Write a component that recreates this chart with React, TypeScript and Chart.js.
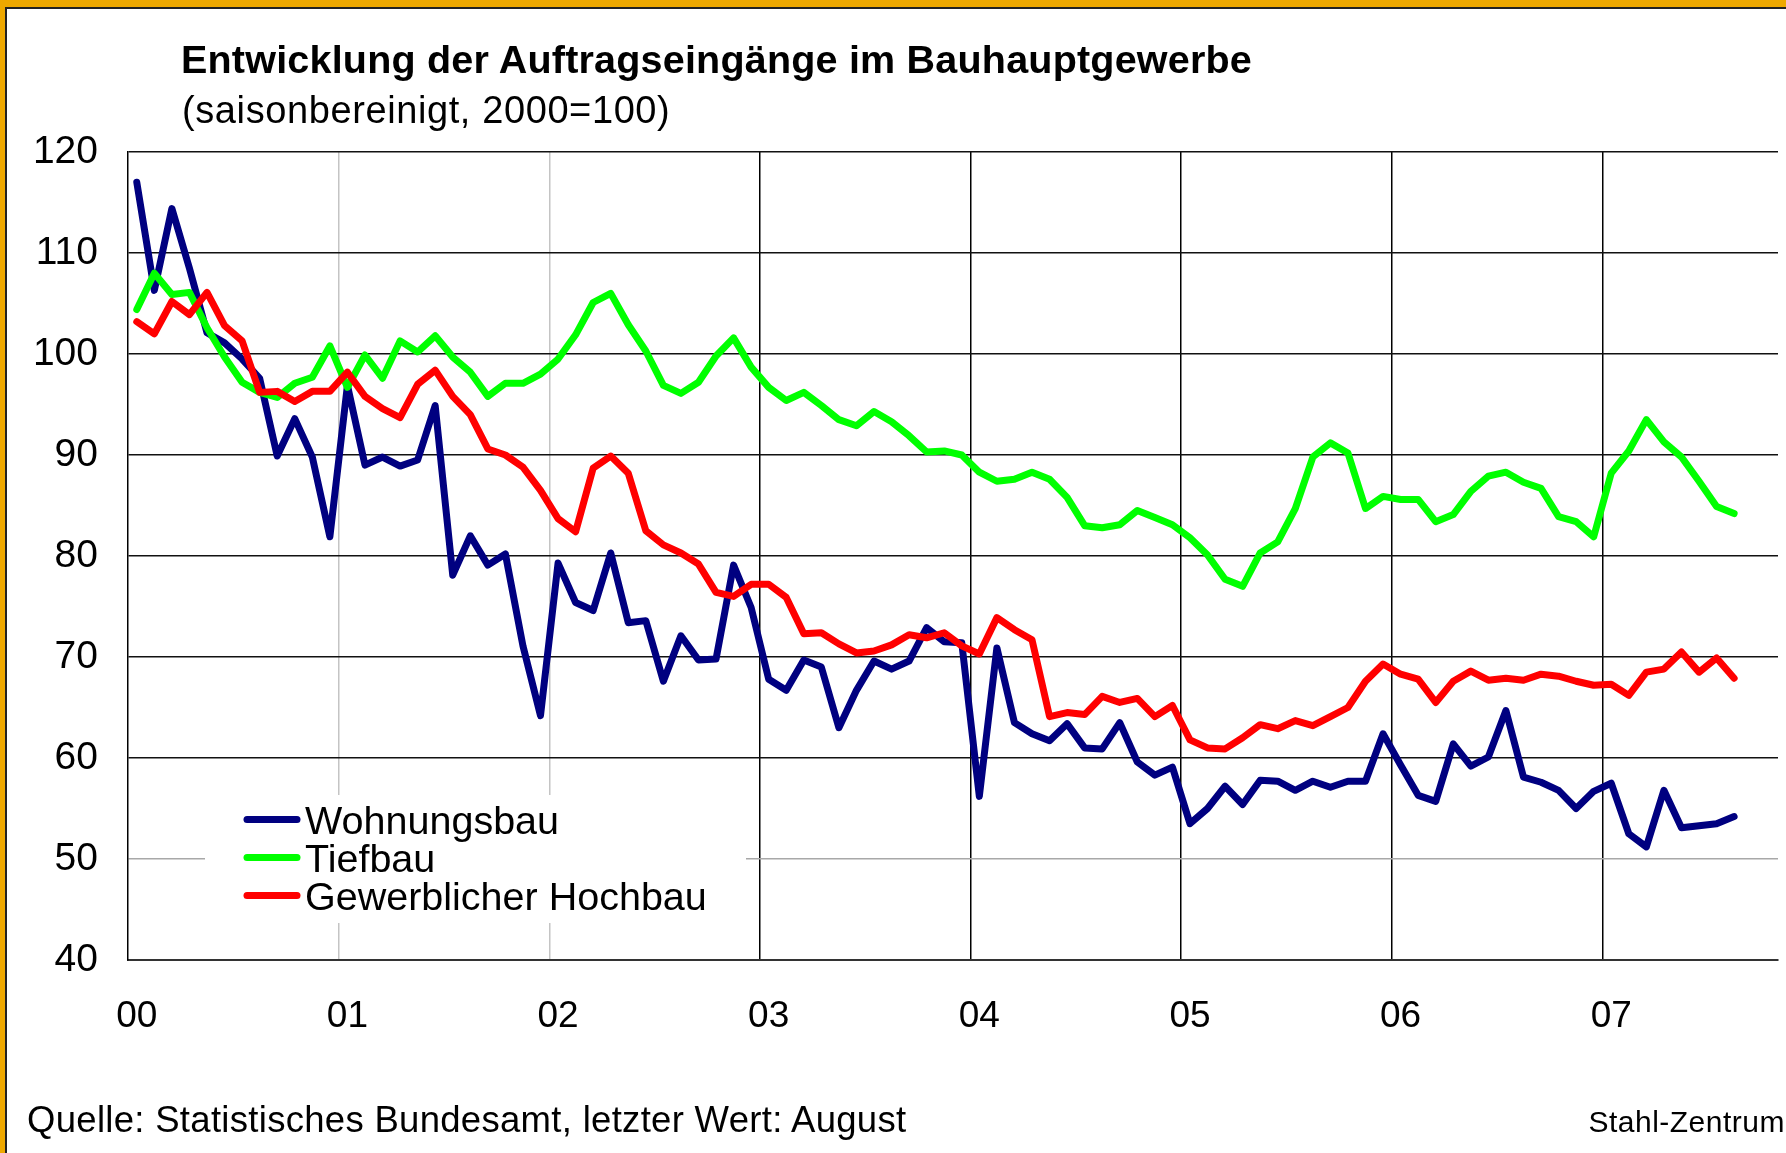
import React, { useEffect, useRef } from 'react';
import { Chart, registerables } from 'chart.js';

Chart.register(...registerables);

// ---------- data ----------
const yearLabels = ['00', '01', '02', '03', '04', '05', '06', '07'];
const monthNames = ['Jan', 'Feb', 'Mär', 'Apr', 'Mai', 'Jun', 'Jul', 'Aug', 'Sep', 'Okt', 'Nov', 'Dez'];
// Axis runs Jan 2000 .. Oct 2007 (94 months), data ends Aug 2007
const categories: string[] = [];
yearLabels.forEach((y) => monthNames.forEach((m) => categories.push(`${m} ${y}`)));
categories.length = 94;

const seriesNames = ['Wohnungsbau', 'Tiefbau', 'Gewerblicher Hochbau'];
const seriesColors = ['#000080', '#00FF00', '#FF0000'];

const wohnungsbau = [
  117.0, 106.3, 114.4, 108.5, 102.1, 101.1, 99.5, 97.6, 89.9, 93.6, 89.8, 81.9,
  96.9, 89.0, 89.8, 88.9, 89.5, 94.9, 78.1, 82.0, 79.1, 80.2, 71.1, 64.2,
  79.3, 75.4, 74.6, 80.3, 73.4, 73.6, 67.6, 72.1, 69.7, 69.8, 79.1, 74.9,
  67.8, 66.7, 69.7, 69.0, 63.0, 66.7, 69.6, 68.8, 69.6, 72.9, 71.5, 71.4,
  56.2, 70.9, 63.5, 62.4, 61.7, 63.4, 61.0, 60.9, 63.5, 59.6, 58.3, 59.1,
  53.5, 55.0, 57.2, 55.4, 57.8, 57.7, 56.8, 57.7, 57.1, 57.7, 57.7, 62.4,
  59.3, 56.3, 55.7, 61.4, 59.2, 60.1, 64.7, 58.1, 57.6, 56.8, 55.0, 56.7,
  57.5, 52.5, 51.2, 56.8, 53.1, 53.3, 53.5, 54.2,
];

const tiefbau = [
  104.4, 108.0, 105.9, 106.1, 102.6, 99.7, 97.2, 96.2, 95.7, 97.1, 97.7, 100.8,
  96.7, 99.9, 97.6, 101.3, 100.2, 101.8, 99.7, 98.2, 95.8, 97.1, 97.1, 98.0,
  99.5, 101.9, 105.1, 106.0, 102.9, 100.3, 96.9, 96.1, 97.2, 99.8, 101.6, 98.7,
  96.7, 95.4, 96.2, 94.9, 93.5, 92.9, 94.3, 93.3, 91.9, 90.3, 90.4, 90.0,
  88.3, 87.4, 87.6, 88.3, 87.6, 85.8, 83.0, 82.8, 83.1, 84.5, 83.8, 83.1,
  81.8, 80.1, 77.7, 77.0, 80.3, 81.4, 84.7, 89.8, 91.2, 90.2, 84.7, 85.9,
  85.6, 85.6, 83.4, 84.1, 86.4, 87.9, 88.3, 87.3, 86.7, 83.9, 83.4, 81.9,
  88.2, 90.4, 93.5, 91.3, 89.8, 87.4, 84.9, 84.2,
];

const hochbau = [
  103.2, 102.0, 105.2, 103.9, 106.1, 102.8, 101.3, 96.2, 96.3, 95.3, 96.3, 96.3,
  98.2, 95.8, 94.6, 93.7, 97.0, 98.4, 95.8, 94.0, 90.6, 90.0, 88.8, 86.5,
  83.7, 82.4, 88.7, 89.9, 88.2, 82.5, 81.1, 80.3, 79.2, 76.4, 76.0, 77.2,
  77.2, 75.9, 72.3, 72.4, 71.3, 70.4, 70.6, 71.2, 72.2, 71.9, 72.4, 71.1,
  70.3, 73.9, 72.7, 71.7, 64.1, 64.5, 64.3, 66.1, 65.5, 65.9, 64.1, 65.2,
  61.8, 61.0, 60.9, 62.0, 63.3, 62.9, 63.7, 63.2, 64.1, 65.0, 67.6, 69.3,
  68.3, 67.8, 65.5, 67.6, 68.6, 67.7, 67.9, 67.7, 68.3, 68.1, 67.6, 67.2,
  67.3, 66.2, 68.5, 68.8, 70.5, 68.5, 69.9, 67.9,
];

const yMin = 40;
const yMax = 120;
const yStep = 10;

const FONT = "'Liberation Sans', Arial, sans-serif";

// legend drawn inside the plot area on a white box
const legendPlugin = {
  id: 'innerLegend',
  beforeDatasetsDraw(chart: any) {
    const { ctx, chartArea } = chart;
    const left = chartArea.left;
    const bottom = chartArea.bottom;
    ctx.save();
    ctx.fillStyle = '#ffffff';
    ctx.fillRect(left + 77, bottom - 165, 541, 128);
    const baselines = [bottom - 126, bottom - 88, bottom - 50];
    chart.data.datasets.forEach((ds: any, i: number) => {
      const yb = baselines[i];
      ctx.strokeStyle = ds.borderColor;
      ctx.lineWidth = 7;
      ctx.lineCap = 'round';
      ctx.beginPath();
      ctx.moveTo(left + 119, yb - 14.5);
      ctx.lineTo(left + 169, yb - 14.5);
      ctx.stroke();
      ctx.fillStyle = '#000';
      ctx.font = `39.5px ${FONT}`;
      ctx.textAlign = 'left';
      ctx.textBaseline = 'alphabetic';
      ctx.fillText(ds.label, left + 177, yb);
    });
    ctx.restore();
  },
};

export default function App() {
  const canvasRef = useRef<HTMLCanvasElement>(null);

  useEffect(() => {
    const canvas = canvasRef.current;
    if (!canvas) return;
    const seriesData = [wohnungsbau, tiefbau, hochbau];
    const chart = new Chart(canvas, {
      type: 'line',
      data: {
        labels: categories,
        datasets: seriesData.map((d, i) => ({
          label: seriesNames[i],
          data: d,
          borderColor: seriesColors[i],
          backgroundColor: seriesColors[i],
          borderWidth: 7,
          pointRadius: 0,
          pointHoverRadius: 0,
          tension: 0,
          fill: false,
          borderJoinStyle: 'round' as const,
          borderCapStyle: 'round' as const,
          order: 2 - i,
        })),
      },
      options: {
        animation: false,
        responsive: false,
        devicePixelRatio: 1,
        events: [],
        layout: { padding: { left: 0, top: 152, right: 8, bottom: 0 } },
        plugins: {
          legend: { display: false },
          tooltip: { enabled: false },
          title: { display: false },
        },
        scales: {
          x: {
            type: 'category',
            offset: true,
            grid: {
              offset: true,
              drawTicks: false,
              lineWidth: 1.5,
              color: (ctx: any) => {
                const i = ctx.index;
                if (typeof i === 'number' && i > 0 && i < categories.length && i % 12 === 0) {
                  return i === 12 || i === 24 ? '#c4c4c4' : '#000000';
                }
                return 'rgba(0,0,0,0)';
              },
            },
            border: { display: true, color: '#333333', width: 2 },
            ticks: {
              autoSkip: false,
              maxRotation: 0,
              minRotation: 0,
              padding: 35,
              color: '#000',
              font: { family: FONT, size: 37 },
              callback: (_v: any, index: number) => (index % 12 === 0 ? yearLabels[index / 12] : ''),
            },
            afterFit: (scale: any) => {
              scale.height = 193;
              scale.paddingLeft = 0;
              scale.paddingRight = 0;
            },
          },
          y: {
            min: yMin,
            max: yMax,
            grid: {
              drawTicks: false,
              lineWidth: 1.5,
              color: (ctx: any) => (ctx.tick && ctx.tick.value === 50 ? '#a8a8a8' : '#111111'),
            },
            border: { display: true, color: '#000', width: 1.5 },
            ticks: {
              stepSize: yStep,
              padding: 30,
              color: '#000',
              font: { family: FONT, size: 39 },
            },
            afterFit: (scale: any) => {
              scale.width = 128;
            },
          },
        },
      } as any,
      plugins: [legendPlugin],
    });
    return () => chart.destroy();
  }, []);

  const orange = '#EEA800';
  return (
    <div
      style={{
        position: 'absolute',
        left: 0,
        top: 0,
        width: 1786,
        height: 1153,
        background: '#ffffff',
        overflow: 'hidden',
        fontFamily: FONT,
        color: '#000',
      }}
    >
      <canvas
        ref={canvasRef}
        width={1786}
        height={1153}
        style={{ position: 'absolute', left: 0, top: 0, width: 1786, height: 1153 }}
      />
      {/* frame */}
      <div style={{ position: 'absolute', left: 0, top: 0, width: 1786, height: 7, background: orange }} />
      <div style={{ position: 'absolute', left: 0, top: 0, width: 5, height: 1153, background: orange }} />
      <div style={{ position: 'absolute', left: 5, top: 7, width: 1781, height: 2, background: '#222' }} />
      <div style={{ position: 'absolute', left: 5, top: 7, width: 2, height: 1146, background: '#222' }} />
      {/* titles */}
      <div
        style={{
          position: 'absolute',
          left: 181,
          top: 39.9,
          fontSize: 39.5,
          lineHeight: '39.5px',
          fontWeight: 'bold',
          letterSpacing: '0.2px',
          whiteSpace: 'nowrap',
        }}
      >
        Entwicklung der Auftragseingänge im Bauhauptgewerbe
      </div>
      <div
        style={{
          position: 'absolute',
          left: 182,
          top: 91.1,
          fontSize: 38,
          lineHeight: '38px',
          letterSpacing: '0.6px',
          whiteSpace: 'nowrap',
        }}
      >
        (saisonbereinigt, 2000=100)
      </div>
      {/* footer */}
      <div
        style={{
          position: 'absolute',
          left: 27,
          top: 1101.8,
          fontSize: 36.5,
          lineHeight: '36.5px',
          letterSpacing: '0.3px',
          whiteSpace: 'nowrap',
        }}
      >
        Quelle: Statistisches Bundesamt, letzter Wert: August
      </div>
      <div
        style={{
          position: 'absolute',
          right: 1,
          top: 1107.3,
          fontSize: 30,
          lineHeight: '30px',
          letterSpacing: '0.5px',
          whiteSpace: 'nowrap',
        }}
      >
        Stahl-Zentrum
      </div>
    </div>
  );
}
